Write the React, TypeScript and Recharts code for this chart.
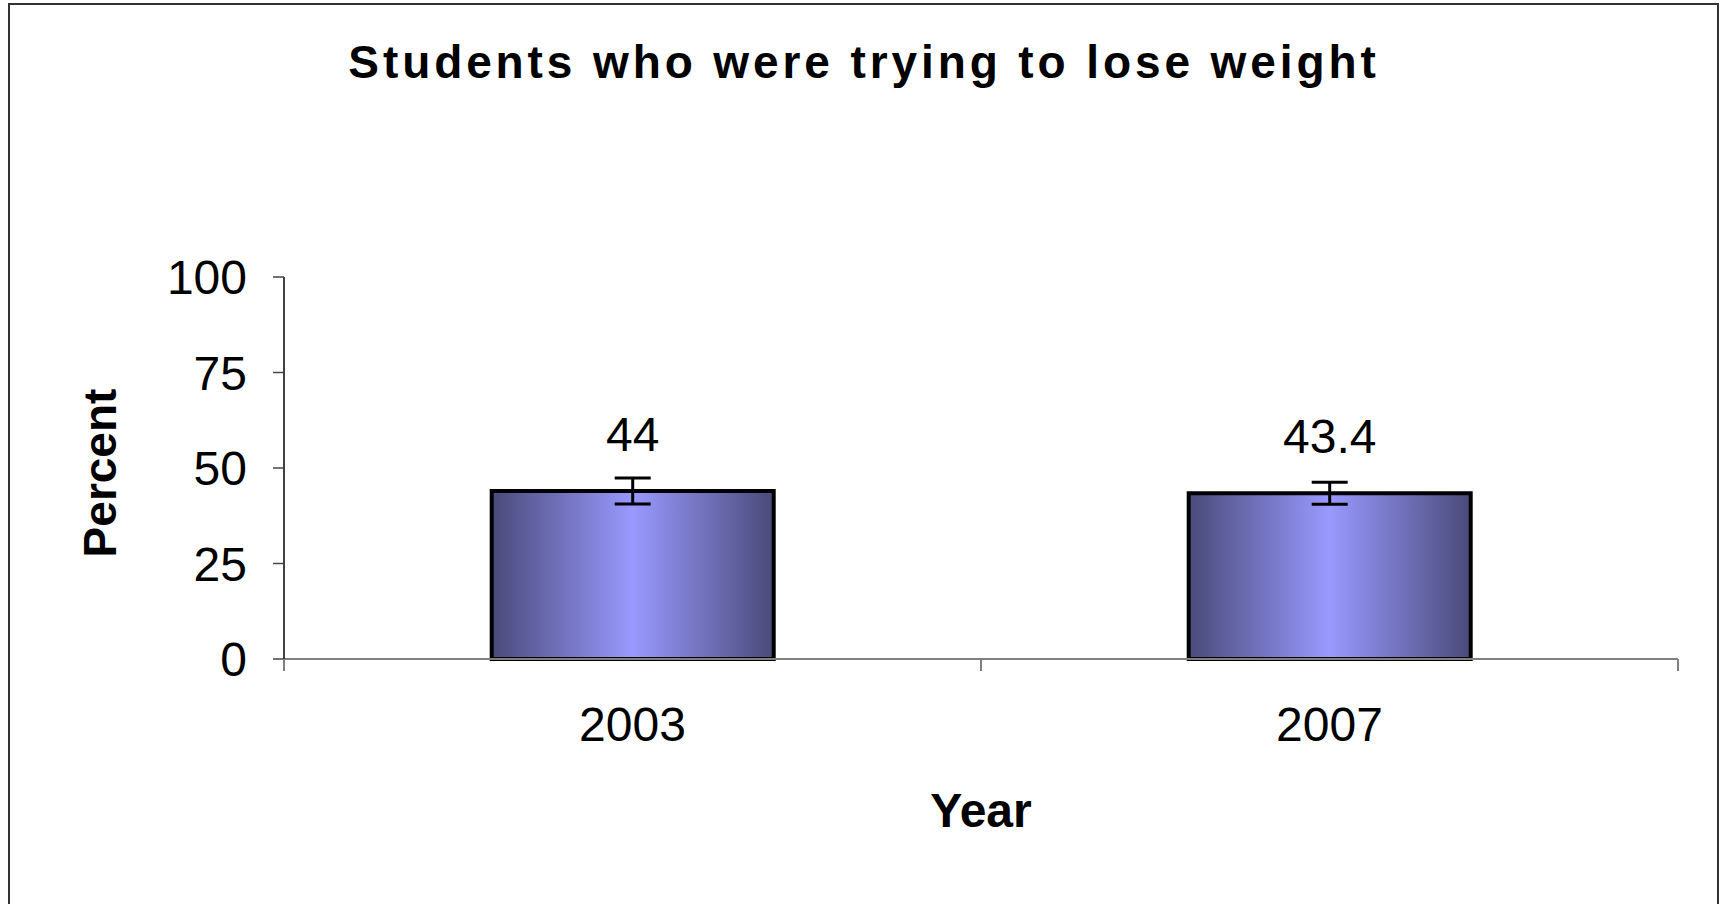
import { Bar, BarChart, ErrorBar, LabelList, XAxis, YAxis, Label } from "recharts";

const years = ["2003", "2007"];
const percents = [44, 43.4];
const errors = [3.4, 2.9];
const yTicks = [0, 25, 50, 75, 100];

const data = years.map((year, i) => ({ year, percent: percents[i], err: errors[i] }));

const FONT = '"Liberation Sans", Arial, sans-serif';

const YearTick = (props: any) => {
  const { x, y, payload, width, visibleTicksCount } = props;
  const half = payload.offset || width / visibleTicksCount / 2;
  return (
    <g>
      <line x1={x - half} y1={y} x2={x - half} y2={y + 12} stroke="#808080" strokeWidth={2} />
      <line x1={x + half} y1={y} x2={x + half} y2={y + 12} stroke="#808080" strokeWidth={2} />
      <text x={x} y={y + 82} textAnchor="middle" fontSize={48} fontFamily={FONT} fill="#000">
        {payload.value}
      </text>
    </g>
  );
};

const PercentLabel = (props: any) => {
  const { viewBox } = props;
  const bx = 116;
  const cy = viewBox.y + viewBox.height / 2 + 5;
  return (
    <text
      x={bx}
      y={cy}
      transform={`rotate(-90, ${bx}, ${cy})`}
      textAnchor="middle"
      fontSize={46}
      fontWeight="bold"
      fontFamily={FONT}
      fill="#000"
    >
      Percent
    </text>
  );
};

export default function App() {
  return (
    <div
      style={{
        position: "absolute",
        left: 0,
        top: 0,
        width: 1726,
        height: 904,
        overflow: "hidden",
        background: "#fff",
        fontFamily: FONT,
      }}
    >
      <div style={{ position: "absolute", left: 0, top: 0 }}>
        <BarChart
          width={1726}
          height={904}
          data={data}
          margin={{ top: 277, right: 48, bottom: 45, left: 84 }}
          barCategoryGap="29.8%"
        >
          <defs>
            <linearGradient id="barFill" x1="0" y1="0" x2="1" y2="0">
              <stop offset="0%" stopColor="#4a4a7a" />
              <stop offset="50%" stopColor="#9999ff" />
              <stop offset="100%" stopColor="#4a4a7a" />
            </linearGradient>
          </defs>
          <XAxis
            dataKey="year"
            height={200}
            tickLine={false}
            tickSize={0}
            tickMargin={0}
            axisLine={{ stroke: "#808080", strokeWidth: 2 }}
            tick={<YearTick />}
            interval={0}
          >
            <Label
              value="Year"
              position="insideBottom"
              offset={32}
              fontSize={48}
              fontWeight="bold"
              fontFamily={FONT}
              fill="#000"
            />
          </XAxis>
          <YAxis
            type="number"
            domain={[0, 100]}
            ticks={yTicks}
            interval={0}
            width={200}
            tickSize={11}
            tickMargin={26}
            axisLine={{ stroke: "#000", strokeWidth: 1.5 }}
            tickLine={{ stroke: "#444", strokeWidth: 1.5 }}
            tick={{ fontSize: 48, fill: "#000", fontFamily: FONT }}
          >
            <Label content={<PercentLabel />} />
          </YAxis>
          <Bar
            dataKey="percent"
            fill="url(#barFill)"
            stroke="#000"
            strokeWidth={4}
            isAnimationActive={false}
          >
            <ErrorBar
              dataKey="err"
              direction="y"
              width={18}
              stroke="#000"
              strokeWidth={3}
              isAnimationActive={false}
            />
            <LabelList
              dataKey="percent"
              position="top"
              offset={40}
              fontSize={48}
              fontFamily={FONT}
              fill="#000"
            />
          </Bar>
        </BarChart>
      </div>
      <svg
        width={1726}
        height={904}
        style={{ position: "absolute", left: 0, top: 0, pointerEvents: "none" }}
      >
        <rect x={9} y={4} width={1709} height={950} fill="none" stroke="#333" strokeWidth={2} />
        <text
          x={864}
          y={78}
          textAnchor="middle"
          fontSize={46}
          fontWeight="bold"
          letterSpacing={3.9}
          fontFamily={FONT}
          fill="#000"
        >
          Students who were trying to lose weight
        </text>
      </svg>
    </div>
  );
}
